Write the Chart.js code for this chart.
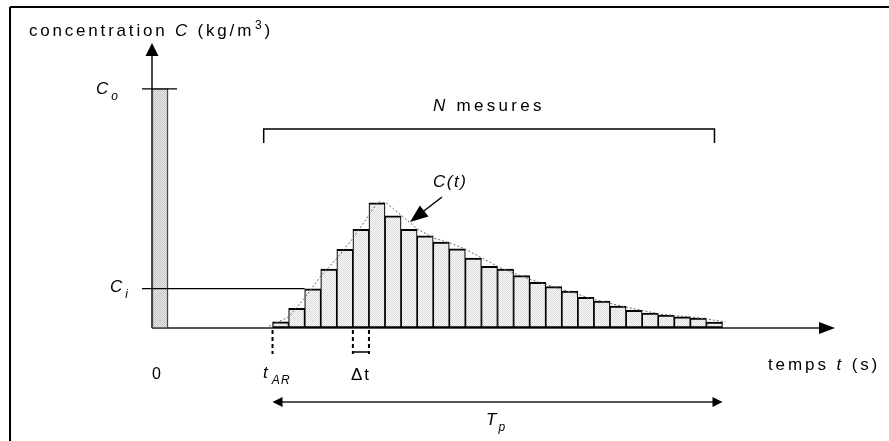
<!DOCTYPE html>
<html>
<head>
<meta charset="utf-8">
<script src="https://cdn.jsdelivr.net/npm/chart.js@4/dist/chart.umd.min.js"></script>
<style>
  html, body { margin: 0; padding: 0; background: #fff; }
  canvas { display: block; }
</style>
</head>
<body>
<canvas id="schema" width="889" height="441"></canvas>
<script>
// Injection d'un traceur : concentration mesurée en sortie (unités arbitraires, C0 = 10)
const C0 = 10;          // concentration injectée
const Ci = 1.65;        // niveau C_i
const tAR = 7.5;        // temps d'arrivée (en pas Δt)
const dt = 1;           // pas de mesure
const tMax = 42.5;      // bout de l'axe des temps
const cMax = 11.92;     // bout de l'axe des concentrations

// N = 28 mesures
const mesures = [0.26, 0.82, 1.64, 2.46, 3.29, 4.13, 5.24, 4.69, 4.13, 3.85,
                 3.59, 3.31, 2.92, 2.58, 2.46, 2.19, 1.91, 1.73, 1.54, 1.28,
                 1.13, 0.92, 0.74, 0.62, 0.54, 0.47, 0.41, 0.25];

// courbe C(t) en pointillé
const courbeT = [7.06, 8.52, 9.56, 10.56, 11.58, 12.58, 13.58, 14.06, 14.56, 15.61, 16.54,
                 17.58, 18.63, 19.61, 21.61, 23.61, 25.64, 27.64, 29.64, 31.73, 33.67, 35.67];
const courbeC = [0, 0.47, 1.31, 2.22, 2.98, 3.82, 4.81, 5.27, 5.24, 4.66, 4.13,
                 3.75, 3.54, 3.26, 2.54, 2.01, 1.59, 1.17, 0.85, 0.57, 0.45, 0.26];

const FONT = '"Liberation Sans", Arial, sans-serif';

// motif pointillé pour le remplissage des barres
function motif(c1, c2) {
  const p = document.createElement("canvas");
  p.width = 2; p.height = 2;
  const g = p.getContext("2d");
  g.fillStyle = c1; g.fillRect(0, 0, 2, 2);
  g.fillStyle = c2; g.fillRect(0, 0, 1, 1); g.fillRect(1, 1, 1, 1);
  return g.createPattern(p, "repeat");
}

// texte avec italiques, indices et exposants
function texte(ctx, parts, x, y, size, spacing) {
  ctx.save();
  ctx.fillStyle = "#000";
  ctx.textBaseline = "alphabetic";
  ctx.textAlign = "left";
  let cx = x;
  parts.forEach(p => {
    const s = p.s ? Math.round(size * 0.7) : size;
    ctx.font = (p.i ? "italic " : "") + s + "px " + FONT;
    ctx.letterSpacing = (p.s ? spacing * 0.6 : spacing) + "px";
    let dy = 0;
    if (p.s === "sub") dy = size * 0.35;
    if (p.s === "sup") dy = -size * 0.4;
    ctx.fillText(p.t, cx + (p.dx || 0), y + dy);
    cx += ctx.measureText(p.t).width + (p.dx || 0);
  });
  ctx.restore();
}

function fleche(ctx, x1, y1, x2, y2, len, half) {
  const a = Math.atan2(y2 - y1, x2 - x1);
  ctx.beginPath();
  ctx.moveTo(x2, y2);
  ctx.lineTo(x2 - len * Math.cos(a) + half * Math.sin(a), y2 - len * Math.sin(a) - half * Math.cos(a));
  ctx.lineTo(x2 - len * Math.cos(a) - half * Math.sin(a), y2 - len * Math.sin(a) + half * Math.cos(a));
  ctx.closePath();
  ctx.fill();
}

function ligne(ctx, x1, y1, x2, y2) {
  ctx.beginPath();
  ctx.moveTo(x1, y1);
  ctx.lineTo(x2, y2);
  ctx.stroke();
}

const schema = {
  id: "schema",
  beforeDatasetsDraw(chart) {
    const ctx = chart.ctx;
    const xs = chart.scales.x, ys = chart.scales.y;
    const x0 = xs.getPixelForValue(0), y0 = ys.getPixelForValue(0);
    const xEnd = xs.getPixelForValue(tMax), yEnd = ys.getPixelForValue(cMax);
    ctx.save();
    // cadre
    ctx.strokeStyle = "#000";
    ctx.lineWidth = 2;
    ligne(ctx, 10, 7, 889, 7);
    ligne(ctx, 10, 7, 10, 441);
    // axe des temps
    ctx.strokeStyle = "#555";
    ctx.lineWidth = 2;
    ligne(ctx, x0, y0, xEnd - 15, y0);
    ctx.fillStyle = "#000";
    fleche(ctx, x0, y0, xEnd, y0, 16, 6);
    // axe des concentrations
    ctx.strokeStyle = "#111";
    ctx.lineWidth = 1.5;
    ligne(ctx, x0, y0, x0, yEnd + 12);
    fleche(ctx, x0, y0, x0, yEnd, 13, 6.5);
    ctx.restore();
  },
  afterDatasetsDraw(chart) {
    const ctx = chart.ctx;
    const xs = chart.scales.x, ys = chart.scales.y;
    const X = v => xs.getPixelForValue(v), Y = v => ys.getPixelForValue(v);
    const x0 = X(0), y0 = Y(0);
    ctx.save();
    ctx.strokeStyle = "#000";
    ctx.fillStyle = "#000";

    // repères C0 et Ci
    ctx.lineWidth = 1.2;
    ligne(ctx, x0 - 10, Y(C0), x0 + 25, Y(C0));
    ligne(ctx, x0 - 10, Y(Ci), X(tAR + 2 * dt), Y(Ci));

    // accolade N mesures
    const yb = 129;
    ctx.lineWidth = 1.5;
    ctx.beginPath();
    ctx.moveTo(X(tAR - 0.55), yb + 14);
    ctx.lineTo(X(tAR - 0.55), yb);
    ctx.lineTo(X(tAR + mesures.length * dt - 0.5), yb);
    ctx.lineTo(X(tAR + mesures.length * dt - 0.5), yb + 14);
    ctx.stroke();

    // tirets t_AR et Δt
    ctx.lineWidth = 2;
    ctx.setLineDash([4, 3]);
    [tAR, tAR + 5 * dt, tAR + 6 * dt].forEach(t => ligne(ctx, X(t), y0 + 2, X(t), y0 + 26));
    ctx.setLineDash([]);
    ctx.lineWidth = 1.5;
    ligne(ctx, X(tAR + 5 * dt), y0 + 24, X(tAR + 6 * dt), y0 + 24);

    // flèche T_p
    const yT = 402;
    const xa = X(tAR), xb = X(tAR + mesures.length * dt);
    ctx.strokeStyle = "#555";
    ctx.lineWidth = 2;
    ligne(ctx, xa + 8, yT, xb - 8, yT);
    fleche(ctx, xb, yT, xa, yT, 10, 5);
    fleche(ctx, xa, yT, xb, yT, 10, 5);

    // flèche vers C(t)
    ctx.strokeStyle = "#000";
    ctx.lineWidth = 1.5;
    ligne(ctx, 442, 197, 420, 214);
    fleche(ctx, 442, 197, 410, 222, 18, 7);
    ctx.restore();

    // textes
    texte(ctx, [{t: "concentration "}, {t: "C", i: 1}, {t: " (kg/m"}, {t: "3", s: "sup", dx: 1}, {t: ")", dx: 1}], 29, 36, 17, 2.8);
    texte(ctx, [{t: "C", i: 1}, {t: "o", i: 1, s: "sub", dx: 3}], 96, 94, 17, 0);
    texte(ctx, [{t: "C", i: 1}, {t: "i", i: 1, s: "sub", dx: 3}], 110, 292, 17, 0);
    texte(ctx, [{t: "0"}], 152, 379, 16, 0);
    texte(ctx, [{t: "N", i: 1}, {t: " mesures"}], 433, 111, 17, 3.3);
    texte(ctx, [{t: "C(t)", i: 1}], 433, 187, 17, 1.5);
    texte(ctx, [{t: "t", i: 1}, {t: "AR", i: 1, s: "sub", dx: 2}], 263, 378, 17, 2);
    texte(ctx, [{t: "Δ"}, {t: "t", dx: 2}], 351, 380, 17, 0);
    texte(ctx, [{t: "temps "}, {t: "t", i: 1}, {t: " (s)"}], 768, 370, 17, 2.9);
    texte(ctx, [{t: "T", i: 1}, {t: "p", i: 1, s: "sub", dx: 2}], 486, 425, 17, 0);
  }
};

const barres = mesures.map((c, i) => ({x: tAR + (i + 0.5) * dt, y: c}));
const courbe = courbeT.map((t, i) => ({x: t, y: courbeC[i]}));

new Chart(document.getElementById("schema"), {
  type: "bar",
  data: {
    datasets: [
      {
        type: "line",
        data: courbe,
        borderColor: "#666",
        borderWidth: 1,
        borderDash: [2, 2],
        pointRadius: 0,
        fill: false,
        tension: 0,
        order: 0
      },
      {
        data: [{x: dt / 2, y: C0}],
        backgroundColor: motif("#e4e4e4", "#c8c8c8"),
        borderColor: "#444",
        borderWidth: {top: 1, left: 1.5, right: 1.5, bottom: 1},
        borderSkipped: false,
        order: 1
      },
      {
        data: barres,
        backgroundColor: motif("#f6f6f6", "#dedede"),
        borderColor: "#000",
        borderWidth: {top: 2, left: 1.2, right: 1.2, bottom: 2},
        borderSkipped: false,
        order: 1
      }
    ]
  },
  options: {
    responsive: false,
    devicePixelRatio: 1,
    animation: false,
    layout: { padding: { left: 152, right: 54, top: 43, bottom: 113 } },
    datasets: { bar: { grouped: false, barPercentage: 1, categoryPercentage: 1 } },
    scales: {
      x: { type: "linear", min: 0, max: tMax, display: false, offset: false },
      y: { min: 0, max: cMax, display: false }
    },
    plugins: { legend: { display: false }, tooltip: { enabled: false } }
  },
  plugins: [schema]
});
</script>
</body>
</html>
